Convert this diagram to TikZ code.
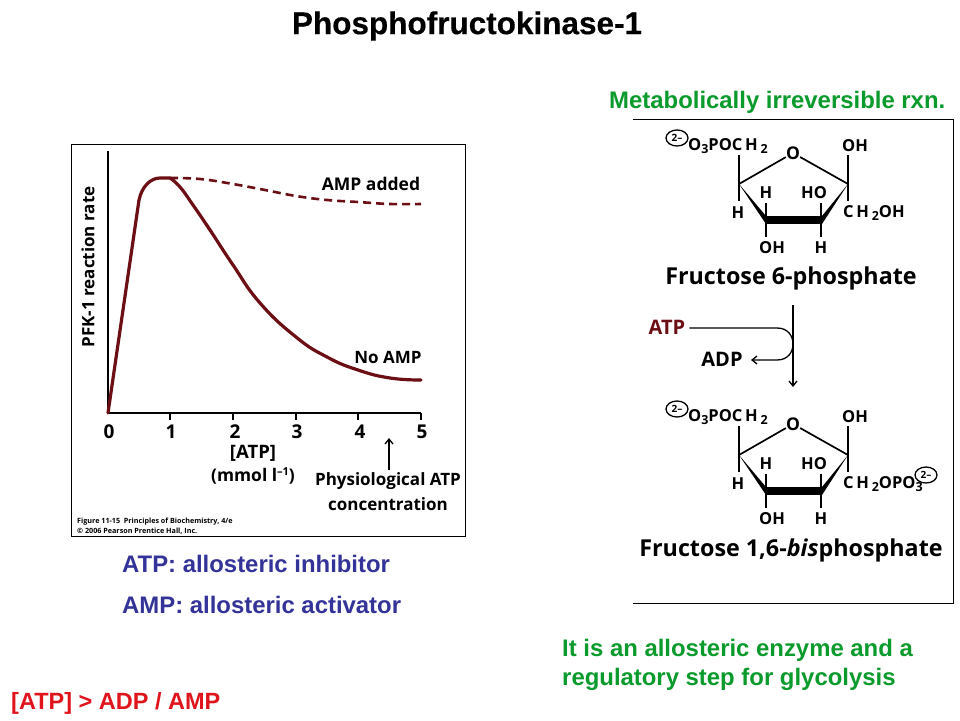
\documentclass[tikz,border=0pt]{standalone}
\usepackage{fontspec}
\setmainfont{Liberation Sans}
\newfontfamily\figfont{Open Sans}
\newfontfamily\titlefont[FakeBold=0.35]{Liberation Sans Bold}
\usetikzlibrary{arrows.meta,shapes.geometric}
\definecolor{curvered}{HTML}{6B0F14}
\definecolor{slidegreen}{HTML}{0B9A2C}
\definecolor{slideblue}{HTML}{333399}
\definecolor{slidered}{HTML}{E0141C}
\newcommand{\fsz}[1]{\fontsize{#1}{#1}\selectfont}
\newcommand{\sbs}[1]{\raisebox{-0.3ex}{\fontsize{12.5}{12.5}\selectfont #1}}
\tikzset{
  slidetext/.style={inner sep=0pt,anchor=base west,font=\fsz{23.9}\bfseries},
  figtext/.style={inner sep=0pt,font=\figfont\fsz{17}\bfseries},
  chemtext/.style={inner sep=0pt,font=\figfont\fsz{16.5}\bfseries},
  nametext/.style={inner sep=0pt,font=\figfont\fsz{23.3}\bfseries},
  bond/.style={line width=1.7pt,black},
  thinbond/.style={line width=1.5pt,black},
  curveline/.style={line width=3.2pt,curvered,line cap=round,line join=round},
  curvedash/.style={line width=2.6pt,curvered,dash pattern=on 8pt off 5pt},
  axisline/.style={line width=2pt,black},
  thinarrow/.style={line width=1.3pt,black,-{Straight Barb[length=5pt,width=8pt]}},
  chargecirc/.style={draw,ellipse,line width=1.3pt,minimum width=22pt,minimum height=16pt,inner sep=0pt,font=\figfont\fsz{10}\bfseries},
}
\newcommand{\sugarring}{
  \coordinate (lv) at (739,184);
  \coordinate (rv) at (848,184);
  \coordinate (ll) at (766,220);
  \coordinate (lr) at (822,220);
  \coordinate (lvt) at (739,155);
  \coordinate (lvb) at (739,201);
  \coordinate (rvt) at (848,155);
  \coordinate (rvb) at (848,201);
  \coordinate (llt) at (766,203);
  \coordinate (llb) at (766,237);
  \coordinate (lrt) at (821,203);
  \coordinate (lrb) at (821,237);
  \node[chemtext,font=\figfont\fsz{17.5}\bfseries] (O) at (793,153) {O};
  \draw[bond] (lv) -- (O);
  \draw[bond] (rv) -- (O);
  \draw[thinbond] (lvt) -- (lvb);
  \draw[thinbond] (rvt) -- (rvb);
  \draw[thinbond] (llt) -- (llb);
  \draw[thinbond] (lrt) -- (lrb);
  \fill[black] (lv) -- ([yshift=4pt]ll) -- ([yshift=-4pt]ll) -- cycle;
  \fill[black] (rv) -- ([yshift=4pt]lr) -- ([yshift=-4pt]lr) -- cycle;
  \fill[black] (766,216) rectangle (822,224);
  \node[chargecirc] (chg) at (677,138) {2–};
  \node[chemtext,anchor=west] (po) at (688,146) {O\sbs{3}POC\,H\,\sbs{2}};
  \node[chemtext] (ohr) at (855,146) {OH};
  \node[chemtext] (hl) at (738,213) {H};
  \node[chemtext] (hu) at (766,193) {H};
  \node[chemtext] (hor) at (814,193) {HO};
  \node[chemtext] (ohb) at (772,248) {OH};
  \node[chemtext] (hb) at (821,248) {H};
}
\begin{document}
\begin{tikzpicture}[x=1pt,y=-1pt]
\useasboundingbox (0,0) rectangle (960,720);
\fill[white] (0,0) rectangle (960,720);

% title
\node[inner sep=0pt,font=\titlefont\fsz{31.5}] (title) at (467,26) {Phosphofructokinase-1};

% plain slide text
\node[slidetext,text=slidegreen] (irrev) at (609,108) {Metabolically irreversible rxn.};
\node[slidetext,text=slideblue] (inhib) at (122,572) {ATP: allosteric inhibitor};
\node[slidetext,text=slideblue] (activ) at (122,613) {AMP: allosteric activator};
\node[slidetext,text=slidegreen] (enz1) at (562,656) {It is an allosteric enzyme and a};
\node[slidetext,text=slidegreen] (enz2) at (562,685) {regulatory step for glycolysis};
\node[slidetext,text=slidered,font=\fsz{23.5}\bfseries] (ratio) at (11,709) {[ATP] > ADP / AMP};

% graph frame
\draw[line width=1pt,black] (71,144) rectangle (465,536);
\coordinate (org) at (108,413);
\coordinate (ytop) at (108,151);
\coordinate (xend) at (421,413);
\draw[axisline] (ytop) -- (org) -- (xend);
\foreach \t/\x in {t1/170,t2/233,t3/296,t4/358,t5/421}{
  \coordinate (\t a) at (\x,413);
  \coordinate (\t b) at (\x,420);
  \draw[line width=1.4pt] (\t a) -- (\t b);
}
\coordinate (pk) at (170,178);
\draw[curvedash] plot[smooth,tension=0.7] coordinates {(pk) (200,179) (233,184) (265,190) (296,196) (327,200) (358,202) (390,204) (421,204)};
\draw[curveline] (org) -- (139,200) .. controls (142,186) and (151,178) .. (160,178) -- (pk);
\draw[curveline] plot[smooth,tension=0.8] coordinates {(pk) (180,187) (193,205) (210,230) (233,265) (260,303) (296,337) (327,357) (358,370) (390,378) (421,380)};
\foreach \n/\v/\x in {l0/0/109,l1/1/171,l2/2/235,l3/3/297,l4/4/360,l5/5/422}{
  \node[figtext,font=\figfont\fsz{19}\bfseries] (\n) at (\x,432) {\v};
}
\node[figtext,font=\figfont\fsz{18.5}\bfseries] (atpx) at (253,453) {[ATP]};
\node[figtext,font=\figfont\fsz{17.4}\bfseries] (unit) at (253,476) {(mmol l\raisebox{0.7ex}{\fsz{11}–1})};
\node[figtext] (phys) at (388,481) {Physiological ATP};
\node[figtext] (conc) at (388,504) {concentration};
\coordinate (pharr) at (389,470);
\coordinate (phtip) at (389,438);
\draw[thinarrow] (pharr) -- (phtip);
\node[figtext,font=\figfont\fsz{17.5}\bfseries] (ampadd) at (371,184) {AMP added};
\node[figtext] (noamp) at (388,357) {No AMP};
\node[figtext,rotate=90] (ylab) at (88,267) {PFK-1 reaction rate};
\node[inner sep=0pt,anchor=west,font=\figfont\fsz{7.2}\bfseries] (cap1) at (77,522) {Figure 11-15\ \ Principles of Biochemistry, 4/e};
\node[inner sep=0pt,anchor=west,font=\figfont\fsz{7.2}\bfseries] (cap2) at (77,531) {© 2006 Pearson Prentice Hall, Inc.};

% reaction frame
\coordinate (bx1) at (633,119);
\coordinate (bx2) at (953,119);
\coordinate (bx3) at (953,603);
\coordinate (bx4) at (633,603);
\draw[line width=1pt,black] (bx1) -- (bx2) -- (bx3) -- (bx4);

% fructose 6-phosphate
\begin{scope}[name prefix=a-]
\sugarring
\node[chemtext,anchor=west] (ch) at (843,213) {C\,H\,\sbs{2}OH};
\node[nametext] (nm) at (791,278) {Fructose 6-phosphate};
\end{scope}

% reaction arrows
\node[chemtext,text=curvered,font=\figfont\fsz{20}\bfseries] (atp) at (667,327) {ATP};
\node[chemtext,font=\figfont\fsz{20}\bfseries] (adp) at (722,359) {ADP};
\coordinate (vtop) at (793,305);
\coordinate (vend) at (793,387);
\coordinate (adpend) at (751,360);
\draw[thinarrow] (vtop) -- (vend);
\draw[thinarrow] (atp.east) ++(4,1) -- (777,328)
  .. controls (788,328) and (793,336) .. (793,344)
  .. controls (793,352) and (788,360) .. (777,360) -- (adpend);

% fructose 1,6-bisphosphate
\begin{scope}[shift={(0,271)},name prefix=b-]
\sugarring
\node[chemtext,anchor=west] (ch) at (843,213) {C\,H\,\sbs{2}OPO\sbs{3}};
\node[chargecirc] (chg2) at (926,204) {2–};
\node[nametext] (nm) at (791,279) {Fructose 1,6-\textit{bis}phosphate};
\end{scope}
\end{tikzpicture}
\end{document}
